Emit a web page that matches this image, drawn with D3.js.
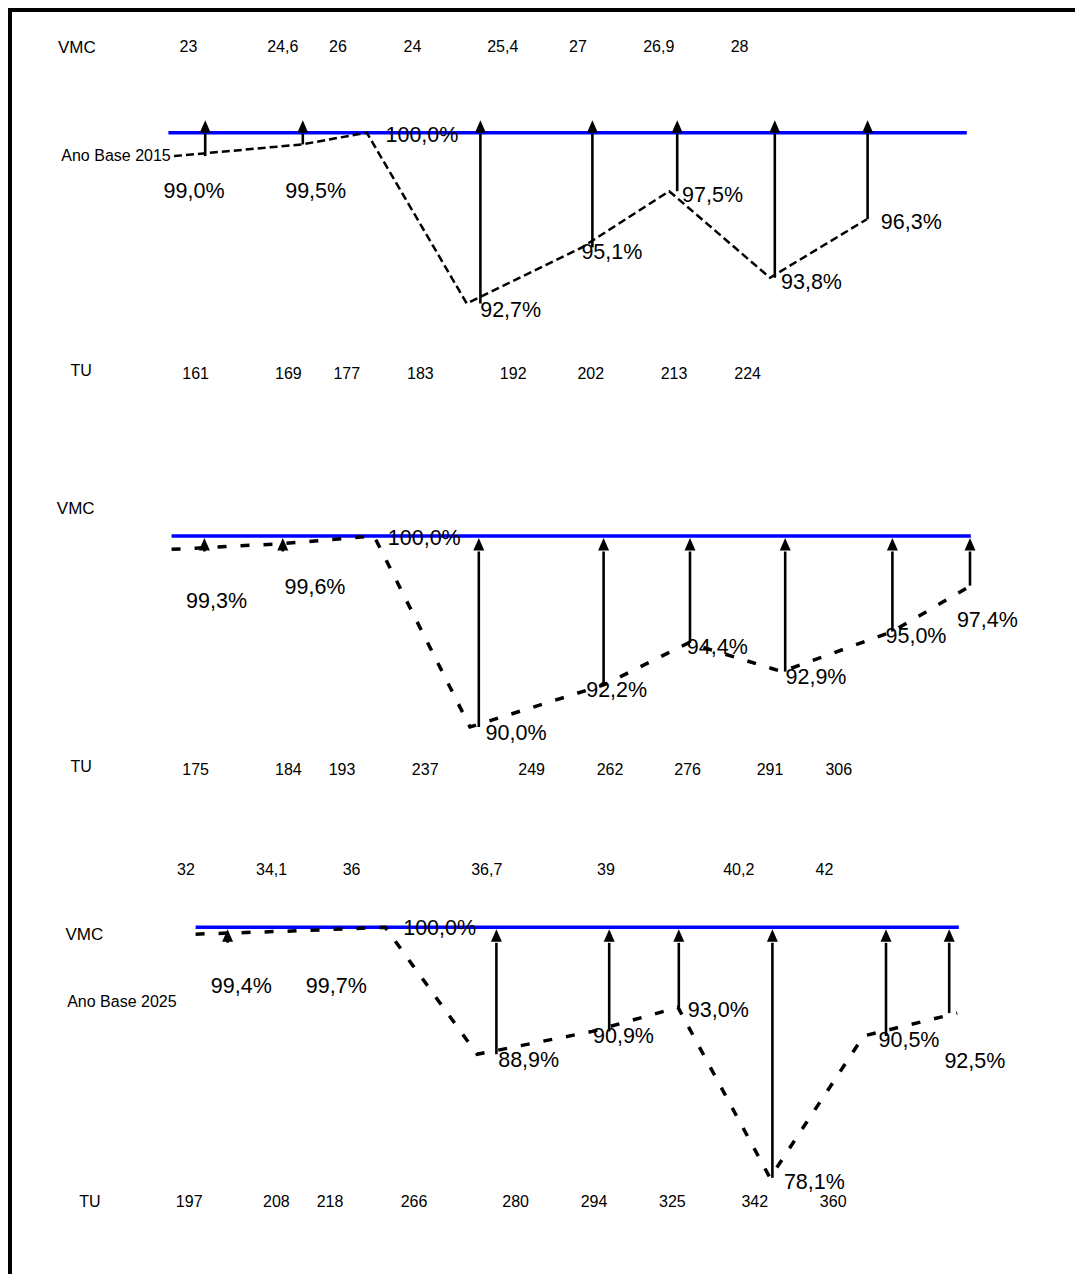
<!DOCTYPE html>
<html><head><meta charset="utf-8">
<script src="https://cdn.jsdelivr.net/npm/d3@7"></script>
<style>html,body{margin:0;padding:0;background:#fff;} svg{display:block;font-family:"Liberation Sans",Arial,sans-serif;}</style>
</head><body><svg id="chart" width="1075" height="1274"></svg>
<script>
// ---------- DATA ----------
// Panel 1 – Ano Base 2015
const p1VmcLabels = ["23","24,6","26","24","25,4","27","26,9","28"];
const p1VmcPos    = [2.3,14.1,21.0,30.3,41.6,51.0,61.1,71.2];
const p1TuLabels  = ["161","169","177","183","192","202","213","224"];
const p1TuPos     = [3.2,14.8,22.1,31.3,42.9,52.6,63.0,72.2];
const p1PctLabels = ["99,0%","99,5%","100,0%","92,7%","95,1%","97,5%","93,8%","96,3%"];
const p1PctValues = [99.0,99.5,100.0,92.7,95.1,97.5,93.8,96.3];
const p1PointPos  = [0.5,16.5,24.6,37.1,51.5,62.4,75.0,87.1];
const p1ArrowPos  = [4.4,16.6,38.8,52.8,63.4,75.6,87.2];
const p1ArrowFrom = [99.0,99.5,92.7,95.1,97.5,93.8,96.3];

// Panel 2
const p2TuLabels  = ["175","184","193","237","249","262","276","291","306"];
const p2TuPos     = [3.2,14.8,21.5,31.9,45.2,55.0,64.7,75.0,83.6];
const p2PctLabels = ["99,3%","99,6%","100,0%","90,0%","92,2%","94,4%","92,9%","95,0%","97,4%"];
const p2PctValues = [99.3,99.6,100.0,90.0,92.2,94.4,92.9,95.0,97.4];
const p2PointPos  = [0.2,14.1,25.5,37.5,54.2,64.8,76.5,90.3,100.1];
const p2ArrowPos  = [4.3,14.1,38.6,54.2,65.0,76.9,90.3,100.0];
const p2ArrowFrom = [99.3,99.6,90.0,92.2,94.4,92.9,95.0,97.4];

// Panel 3 – Ano Base 2025
const p3VmcLabels = ["32","34,1","36","36,7","39","40,2","42"];
const p3VmcPos    = [2.0,12.7,22.7,39.6,54.5,71.1,81.8];
const p3TuLabels  = ["197","208","218","266","280","294","325","342","360"];
const p3TuPos     = [2.4,13.3,20.0,30.5,43.2,53.0,62.8,73.1,82.9];
const p3PctLabels = ["99,4%","99,7%","100,0%","88,9%","90,9%","93,0%","78,1%","90,5%","92,5%"];
const p3PctValues = [99.4,99.7,100.0,88.9,90.9,93.0,78.1,90.5,92.5];
const p3PointPos  = [3.2,16.2,26.9,38.4,52.8,63.5,75.0,86.7,98.4];
const p3ArrowPos  = [7.2,40.8,54.9,63.6,75.3,89.5,97.4];
const p3ArrowFrom = [99.4,88.9,90.9,93.0,78.1,90.5,92.5];

// ---------- LAYOUT ----------
const W = 1075, H = 1274;
const x = d3.scaleLinear().domain([0, 100]).range([170, 970]);

const panels = [
  { vmcLabels:p1VmcLabels, vmcPos:p1VmcPos, tuLabels:p1TuLabels, tuPos:p1TuPos,
    pctLabels:p1PctLabels, pctValues:p1PctValues, pointPos:p1PointPos,
    arrowPos:p1ArrowPos, arrowFrom:p1ArrowFrom,
    y100:132.7, pxPerPct:23.4, line:[-0.2,99.6],
    vmcTitle:[57.9,53.3], vmcNumY:51.7, tuTitle:[70.6,376], tuNumY:379.3,
    note:{text:"Ano Base 2015", x:61.3, y:161},
    arrowMode:"above", dash:"8,4", dashW:2.5,
    offsets:[[-10.4,42.2],[-16.8,53.6],[18.7,9],[13.4,13.2],[-0.6,11.6],[12.9,10.5],[11,11.5],[14,10]] },
  { vmcLabels:[], vmcPos:[], tuLabels:p2TuLabels, tuPos:p2TuPos,
    pctLabels:p2PctLabels, pctValues:p2PctValues, pointPos:p2PointPos,
    arrowPos:p2ArrowPos, arrowFrom:p2ArrowFrom,
    y100:536, pxPerPct:19.1, line:[0.2,100.1],
    vmcTitle:[56.8,514], vmcNumY:0, tuTitle:[70.6,771.7], tuNumY:775,
    note:null, arrowMode:"below", dash:"9,14", dashW:3.5,
    offsets:[[14.5,58.9],[1.7,50.7],[13.8,9],[15.6,13],[-17.4,12.3],[-1.6,11.3],[3.5,12.4],[-6.9,11.8],[-13.9,41.6]] },
  { vmcLabels:p3VmcLabels, vmcPos:p3VmcPos, tuLabels:p3TuLabels, tuPos:p3TuPos,
    pctLabels:p3PctLabels, pctValues:p3PctValues, pointPos:p3PointPos,
    arrowPos:p3ArrowPos, arrowFrom:p3ArrowFrom,
    y100:927.3, pxPerPct:11.44, line:[3.2,98.6],
    vmcTitle:[65.4,940], vmcNumY:875, tuTitle:[79.2,1206.7], tuNumY:1206.7,
    note:{text:"Ano Base 2025", x:67.2, y:1006.7},
    arrowMode:"below", dash:"9,14", dashW:3.5,
    offsets:[[15.2,58.5],[6.2,62],[18,7.7],[21,12.4],[0.6,11.3],[9.8,9.9],[13.9,11.5],[14.9,10.7],[-12.8,55.2]] }
];

const svg = d3.select("#chart").attr("width", W).attr("height", H);
svg.append("rect").attr("width", W).attr("height", H).attr("fill", "#fff");

// frame (top and left edges)
svg.append("line").attr("x1", 8).attr("x2", W).attr("y1", 10).attr("y2", 10)
   .attr("stroke", "#000").attr("stroke-width", 4);
svg.append("line").attr("x1", 10).attr("x2", 10).attr("y1", 8).attr("y2", H)
   .attr("stroke", "#000").attr("stroke-width", 4);

const HEAD_W = 11, HEAD_H = 12.5;

panels.forEach(p => {
  const y = d3.scaleLinear().domain([100, 90]).range([p.y100, p.y100 + 10 * p.pxPerPct]);
  const g = svg.append("g");

  // blue 100% reference line
  g.append("line")
    .attr("x1", x(p.line[0])).attr("x2", x(p.line[1]))
    .attr("y1", y(100)).attr("y2", y(100))
    .attr("stroke", "#0000ff").attr("stroke-width", 3.5);

  // row titles
  g.append("text").attr("x", p.vmcTitle[0]).attr("y", p.vmcTitle[1])
    .attr("font-size", 17).text("VMC");
  g.append("text").attr("x", p.tuTitle[0]).attr("y", p.tuTitle[1])
    .attr("font-size", 16).text("TU");
  if (p.note) {
    g.append("text").attr("x", p.note.x).attr("y", p.note.y)
      .attr("font-size", 16).text(p.note.text);
  }

  // VMC row
  g.selectAll(".vmc").data(p.vmcLabels).join("text")
    .attr("x", (d, i) => x(p.vmcPos[i])).attr("y", p.vmcNumY)
    .attr("text-anchor", "middle").attr("font-size", 16).text(d => d);

  // TU row
  g.selectAll(".tu").data(p.tuLabels).join("text")
    .attr("x", (d, i) => x(p.tuPos[i])).attr("y", p.tuNumY)
    .attr("text-anchor", "middle").attr("font-size", 16).text(d => d);

  // percentage labels
  g.selectAll(".pct").data(p.pctLabels).join("text")
    .attr("x", (d, i) => x(p.pointPos[i]) + p.offsets[i][0])
    .attr("y", (d, i) => y(p.pctValues[i]) + p.offsets[i][1])
    .attr("font-size", 21.5).text(d => d);

  // dashed index line
  const pts = p.pointPos.map((pos, i) => [pos, p.pctValues[i]]);
  g.append("path")
    .attr("d", d3.line().x(d => x(d[0])).y(d => y(d[1]))(pts))
    .attr("fill", "none").attr("stroke", "#000")
    .attr("stroke-width", p.dashW).attr("stroke-dasharray", p.dash);

  // arrows
  p.arrowPos.forEach((pos, i) => {
    const ax = x(pos);
    let tip, base;
    if (p.arrowMode === "above") { base = y(100); tip = base - HEAD_H; }
    else { tip = y(100) + 2; base = tip + HEAD_H; }
    g.append("line").attr("x1", ax).attr("x2", ax)
      .attr("y1", y(p.arrowFrom[i])).attr("y2", base + 1)
      .attr("stroke", "#000").attr("stroke-width", 2.6);
    g.append("path")
      .attr("d", `M${ax},${tip}L${ax - HEAD_W / 2},${base}L${ax + HEAD_W / 2},${base}Z`)
      .attr("fill", "#000");
  });
});
</script></body></html>
